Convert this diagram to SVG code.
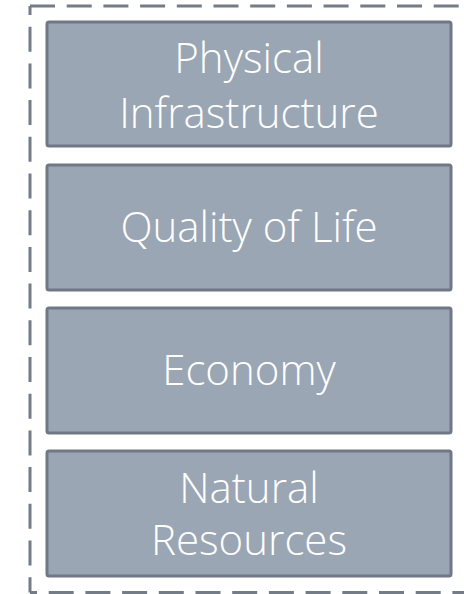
<svg xmlns="http://www.w3.org/2000/svg" width="464" height="594" viewBox="0 0 464 594">
<style>
.box{fill:#9AA6B4;stroke:#6F7884;stroke-width:3}
.lbl{fill:#FFFFFF;font-family:"Open Sans","Noto Sans","Liberation Sans",sans-serif;font-weight:350;font-size:42px;text-anchor:middle}
.frame{fill:none;stroke:#737C87;stroke-width:3;stroke-dasharray:25 11.7}
</style>
<rect width="464" height="594" fill="#FFFFFF"/>
<g id="frame">
<path class="frame" d="M30,6 H470"/>
<path class="frame" d="M30,6 V592.5" stroke-dashoffset="16"/>
<path class="frame" d="M30,592.5 H470" stroke-dashoffset="18"/>
</g>
<g id="physical-infrastructure">
<rect class="box" x="47" y="22" width="404" height="124" rx="2"/>
<text class="lbl" x="249" y="73">Physical</text>
<text class="lbl" x="249" y="128">Infrastructure</text>
</g>
<g id="quality-of-life">
<rect class="box" x="47" y="165" width="404" height="125" rx="2"/>
<text class="lbl" x="249" y="242">Quality of Life</text>
</g>
<g id="economy">
<rect class="box" x="47" y="308" width="404" height="125" rx="2"/>
<text class="lbl" x="249" y="385">Economy</text>
</g>
<g id="natural-resources">
<rect class="box" x="47" y="451" width="404" height="125" rx="2"/>
<text class="lbl" x="249" y="503">Natural</text>
<text class="lbl" x="249" y="555">Resources</text>
</g>
<g id="connectors"></g>
</svg>
